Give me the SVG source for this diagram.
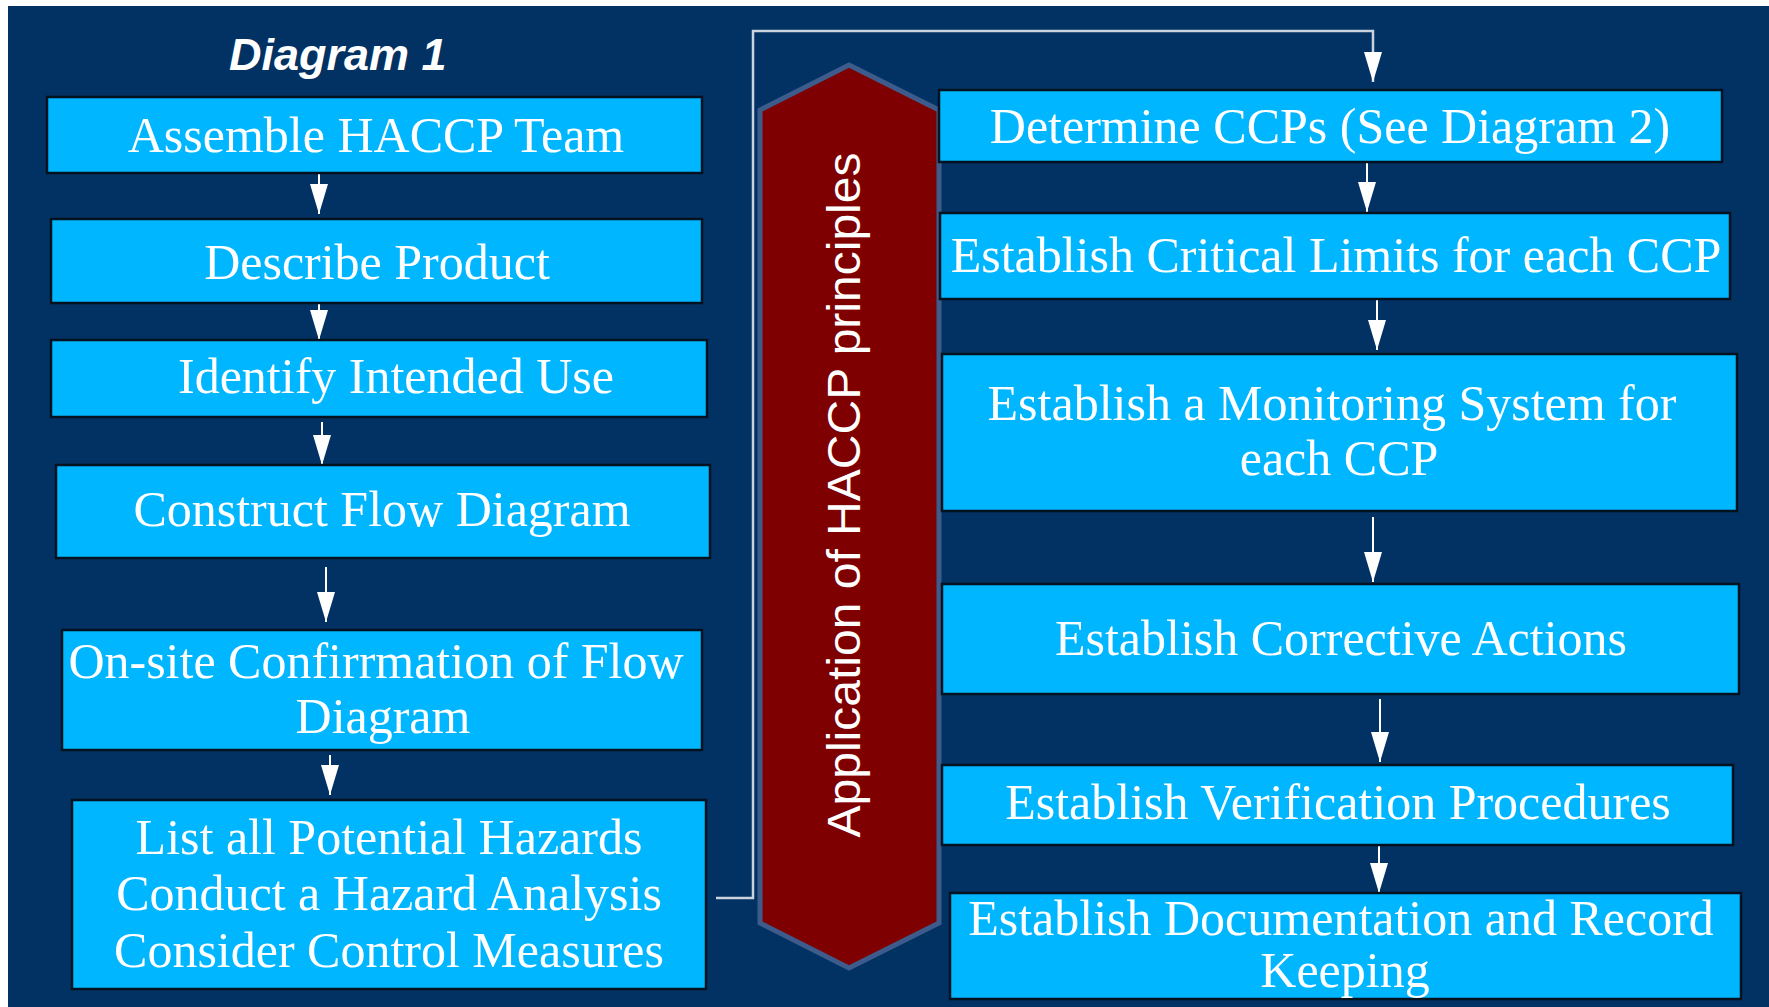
<svg xmlns="http://www.w3.org/2000/svg" width="1769" height="1007" viewBox="0 0 1769 1007">
  <defs>
    <marker id="arr" viewBox="0 0 30 18" refX="30" refY="9" markerWidth="30" markerHeight="18" markerUnits="userSpaceOnUse" orient="auto">
      <path d="M0,0 L30,9 L0,18 z" fill="#ffffff"/>
    </marker>
    <style>
      .box { fill: #00b6ff; stroke: #04121f; stroke-width: 2.5; }
      .t { font-family: "Liberation Serif", "Times New Roman", serif; font-size: 50px; fill: #ffffff; text-anchor: middle; }
      .arrow { stroke: #ffffff; stroke-width: 2; fill: none; marker-end: url(#arr); }
      .link { stroke: #c9d3de; stroke-width: 2.5; fill: none; marker-end: url(#arr); }
    </style>
  </defs>

  <rect x="0" y="0" width="1769" height="1007" fill="#ffffff"/>
  <rect x="8" y="6" width="1761" height="1001" fill="#023263"/>

  <text x="229" y="70" font-family="Liberation Sans, Arial, sans-serif" font-size="45" font-weight="bold" font-style="italic" fill="#ffffff">Diagram 1</text>

  <g id="principles">
    <polygon points="849,65 939,110 939,923 849,968 760,923 760,110" fill="#7f0000" stroke="#3d5c8c" stroke-width="5"/>
    <text transform="translate(860,495) rotate(-90)" font-family="Liberation Sans, Arial, sans-serif" font-size="46" fill="#ffffff" text-anchor="middle" textLength="685" lengthAdjust="spacingAndGlyphs">Application of HACCP principles</text>
  </g>

  <g id="connectors">
    <line class="arrow" x1="319" y1="173" x2="319" y2="214"/>
    <line class="arrow" x1="319" y1="303" x2="319" y2="340"/>
    <line class="arrow" x1="322" y1="422" x2="322" y2="465"/>
    <line class="arrow" x1="326" y1="567" x2="326" y2="622"/>
    <line class="arrow" x1="330" y1="755" x2="330" y2="795"/>
    <polyline class="link" points="716,898 753,898 753,31 1373,31 1373,82"/>
    <line class="arrow" x1="1367" y1="162" x2="1367" y2="212"/>
    <line class="arrow" x1="1377" y1="299" x2="1377" y2="350"/>
    <line class="arrow" x1="1373" y1="517" x2="1373" y2="582"/>
    <line class="arrow" x1="1380" y1="699" x2="1380" y2="762"/>
    <line class="arrow" x1="1379" y1="845" x2="1379" y2="893"/>
  </g>

  <g id="assemble-team">
    <rect class="box" x="47" y="97" width="655" height="76"/>
    <text class="t" x="376" y="152">Assemble HACCP Team</text>
  </g>
  <g id="describe-product">
    <rect class="box" x="51" y="219" width="651" height="84"/>
    <text class="t" x="377" y="279">Describe Product</text>
  </g>
  <g id="intended-use">
    <rect class="box" x="51" y="340" width="656" height="77"/>
    <text class="t" x="396" y="393">Identify Intended Use</text>
  </g>
  <g id="flow-diagram">
    <rect class="box" x="56" y="465" width="654" height="93"/>
    <text class="t" x="382" y="526">Construct Flow Diagram</text>
  </g>
  <g id="onsite-confirmation">
    <rect class="box" x="62" y="630" width="640" height="120"/>
    <text class="t" x="376" y="678">On-site Confirrmation of Flow</text>
    <text class="t" x="383" y="733">Diagram</text>
  </g>
  <g id="hazards">
    <rect class="box" x="72" y="800" width="634" height="189"/>
    <text class="t" x="389" y="854">List all Potential Hazards</text>
    <text class="t" x="389" y="910">Conduct a Hazard Analysis</text>
    <text class="t" x="389" y="967">Consider Control Measures</text>
  </g>

  <g id="determine-ccps">
    <rect class="box" x="939" y="90" width="783" height="72"/>
    <text class="t" x="1330" y="143">Determine CCPs (See Diagram 2)</text>
  </g>
  <g id="critical-limits">
    <rect class="box" x="940" y="213" width="790" height="86"/>
    <text class="t" x="1336" y="272">Establish Critical Limits for each CCP</text>
  </g>
  <g id="monitoring">
    <rect class="box" x="942" y="354" width="795" height="157"/>
    <text class="t" x="1332" y="420">Establish a Monitoring System for</text>
    <text class="t" x="1339" y="475">each CCP</text>
  </g>
  <g id="corrective-actions">
    <rect class="box" x="942" y="584" width="797" height="110"/>
    <text class="t" x="1341" y="655">Establish Corrective Actions</text>
  </g>
  <g id="verification">
    <rect class="box" x="942" y="765" width="791" height="80"/>
    <text class="t" x="1338" y="819">Establish Verification Procedures</text>
  </g>
  <g id="documentation">
    <rect class="box" x="950" y="893" width="791" height="106"/>
    <text class="t" x="1341" y="935">Establish Documentation and Record</text>
    <text class="t" x="1345" y="987">Keeping</text>
  </g>
</svg>
